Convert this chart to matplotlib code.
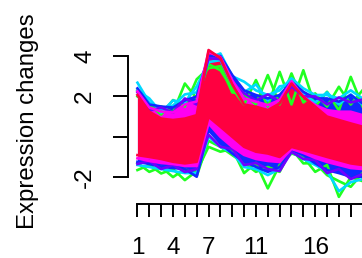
import matplotlib
matplotlib.use("Agg")
import matplotlib.pyplot as plt
from matplotlib.ticker import FixedLocator, FixedFormatter

# ---- data ----
time_points = list(range(1, 21))
x_tick_labels = ["1", "", "", "4", "", "", "7", "", "", "", "11", "", "", "", "", "16", "", "", "", ""]
y_ticks = [-2, 0, 2, 4]
y_tick_labels = ["-2", "", "2", "4"]

green_hi_a = [2.3, 1.3, 1.5, 1.2, 2.64, 1.9, 3.6, 3.3, 2.4, 1.6, 2.81, 1.5, 3.22, 1.6, 3.3, 1.5, 2.23, 1.3, 2.97, 1.5]
green_hi_b = [2.0, 1.6, 1.1, 1.82, 1.5, 2.85, 3.4, 3.5, 2.2, 2.1, 1.6, 3.06, 1.6, 3.14, 1.7, 2.15, 1.5, 2.48, 1.6, 2.31]
green_lo_a = [-1.65, -1.4, -1.82, -1.6, -2.15, -1.7, -0.5, -0.74, -0.6, -1.8, -1.3, -2.56, -1.4, -0.83, -1.0, -1.74, -1.4, -2.98, -2.0, -2.2]
green_lo_b = [-1.3, -1.74, -1.5, -2.0, -1.6, -1.95, -0.2, -0.5, -0.91, -1.3, -1.74, -1.5, -1.74, -0.6, -1.32, -1.3, -1.9, -2.2, -2.48, -1.8]

cyan_hi = [2.68, 1.7, 1.4, 1.55, 2.1, 2.2, 3.9, 4.13, 3.0, 2.73, 2.3, 2.07, 2.3, 2.9, 2.4, 2.07, 2.07, 1.9, 2.3, 1.9]
cyan_hi_b = [2.3, 1.9, 1.2, 1.8, 1.7, 2.5, 3.7, 3.8, 2.6, 2.2, 2.6, 1.8, 2.5, 2.6, 2.1, 1.7, 2.2, 1.6, 2.1, 1.6]
cyan_lo = [-1.4, -1.5, -1.6, -1.7, -1.8, -1.8, 0.0, -0.5, -0.8, -1.5, -1.6, -1.9, -1.6, -0.75, -1.1, -1.4, -1.7, -2.7, -2.25, -2.1]

blue_hi = [2.4, 1.6, 1.5, 1.45, 1.8, 2.0, 4.0, 4.0, 3.06, 2.3, 2.07, 1.9, 2.07, 2.73, 2.23, 1.9, 1.9, 1.74, 2.07, 1.65]
blue_hi_b = [2.2, 1.3, 1.45, 1.2, 1.9, 1.6, 3.9, 3.85, 2.7, 2.15, 1.8, 2.1, 1.75, 2.5, 2.0, 2.0, 1.6, 1.95, 1.7, 1.85]
blue_lo = [-1.24, -1.35, -1.49, -1.55, -1.6, -1.98, 0.33, -0.33, -0.83, -1.24, -1.49, -1.74, -1.5, -0.66, -0.91, -1.32, -1.65, -1.8, -1.98, -1.98]
blue_lo_b = [-1.35, -1.2, -1.6, -1.4, -1.75, -1.6, 0.1, -0.5, -0.6, -1.4, -1.3, -1.6, -1.7, -0.75, -1.1, -1.15, -1.8, -1.6, -2.1, -1.85]

magenta_hi = [2.25, 1.45, 1.25, 1.2, 1.6, 1.75, 4.2, 3.95, 2.8, 1.9, 1.74, 1.57, 1.82, 2.75, 1.98, 1.57, 1.32, 1.24, 1.24, 1.07]
magenta_lo = [-1.07, -1.2, -1.3, -1.35, -1.45, -1.45, 0.66, 0.0, -0.5, -0.9, -1.1, -1.2, -1.25, -0.6, -0.8, -1.05, -1.25, -1.4, -1.55, -1.6]

red_hi = [2.07, 1.24, 0.9, 0.83, 0.9, 1.07, 4.3, 3.9, 2.6, 1.6, 1.49, 1.32, 1.65, 2.64, 1.98, 1.49, 1.0, 0.83, 0.66, 0.5]
red_lo = [-0.91, -1.0, -1.1, -1.24, -1.32, -1.24, 0.99, 0.5, 0.0, -0.5, -0.74, -0.83, -1.0, -0.5, -0.66, -0.83, -1.0, -1.16, -1.32, -1.4]

# ---- style ----
C_GREEN = "#20FF20"
C_CYAN = "#00D8FF"
C_BLUE = "#1028FF"
C_PURPLE = "#7000FF"
C_MAGENTA = "#FF00F0"
C_RED = "#FF0040"
LW = 1.9

plt.rcParams["font.family"] = ["Liberation Sans", "DejaVu Sans"]

fig = plt.figure(figsize=(3.62, 2.58), dpi=100)
ax = fig.add_axes([0, 0, 1, 1])
ax.set_xlim(-10.6, 19.95)
ax.set_ylim(-6.01, 6.78)

t = time_points
for series in (green_hi_a, green_hi_b, green_lo_a, green_lo_b):
    ax.plot(t, series, color=C_GREEN, lw=LW)
for series in (cyan_hi, cyan_hi_b, cyan_lo):
    ax.plot(t, series, color=C_CYAN, lw=LW)

ax.fill_between(t, blue_lo, blue_hi, color=C_BLUE, lw=0)
for series in (blue_hi, blue_lo):
    ax.plot(t, series, color=C_BLUE, lw=LW)
for series in (blue_hi_b, blue_lo_b):
    ax.plot(t, series, color=C_PURPLE, lw=LW)

ax.fill_between(t, magenta_lo, magenta_hi, color=C_MAGENTA, lw=0)
ax.plot(t, magenta_hi, color=C_MAGENTA, lw=LW)
ax.plot(t, magenta_lo, color=C_MAGENTA, lw=LW)

ax.fill_between(t, red_lo, red_hi, color=C_RED, lw=0)
ax.plot(t, red_hi, color=C_RED, lw=LW)
ax.plot(t, red_lo, color=C_RED, lw=LW)

# axes in R style
for s in ("top", "right"):
    ax.spines[s].set_visible(False)
ax.spines["left"].set_position(("data", 0.2))
ax.spines["left"].set_bounds(min(y_ticks), max(y_ticks))
ax.spines["bottom"].set_position(("data", -3.34))
ax.spines["bottom"].set_bounds(time_points[0], time_points[-1])
for s in ("left", "bottom"):
    ax.spines[s].set_linewidth(1.4)
    ax.spines[s].set_color("black")

ax.yaxis.set_major_locator(FixedLocator(y_ticks))
ax.yaxis.set_major_formatter(FixedFormatter(y_tick_labels))
ax.xaxis.set_major_locator(FixedLocator(time_points))
ax.xaxis.set_major_formatter(FixedFormatter(x_tick_labels))

ax.tick_params(axis="y", direction="out", length=10.8, width=1.4, pad=20.0, labelsize=17.5)
ax.tick_params(axis="x", direction="out", length=9.4, width=1.4, pad=22.0, labelsize=17.5)
for lab in ax.get_yticklabels():
    lab.set_rotation(90)
    lab.set_ha("center")
    lab.set_va("center")
for lab in ax.get_xticklabels():
    lab.set_va("center")

fig.text(28 / 362, 1 - 121.5 / 258, "Expression changes", rotation=90,
         ha="center", va="center", fontsize=17.3)

fig.savefig("out.png", dpi=100)
